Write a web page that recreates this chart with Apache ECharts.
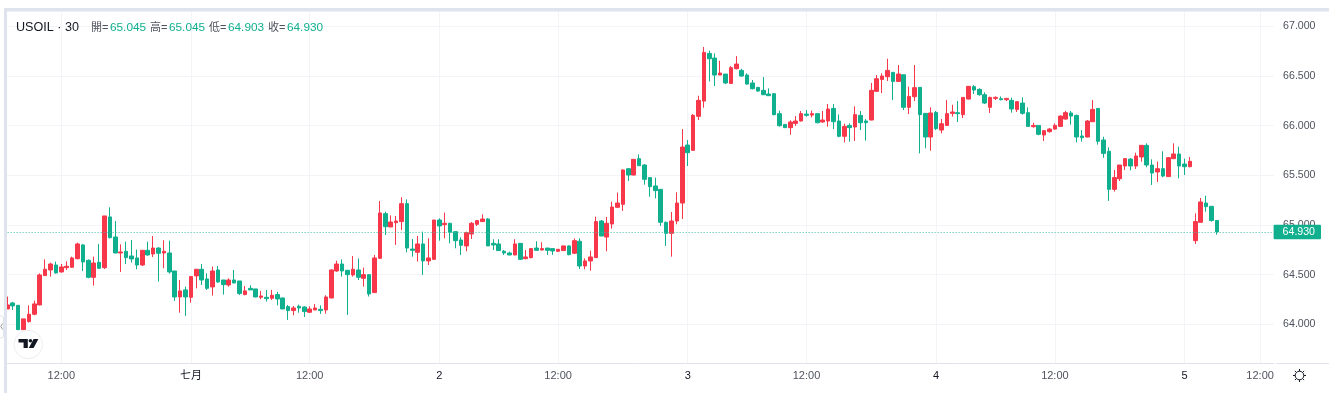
<!DOCTYPE html>
<html><head><meta charset="utf-8">
<style>html,body{margin:0;padding:0;background:#fff}#c{width:1329px;height:393px}</style>
<script src="https://cdn.jsdelivr.net/npm/echarts@6/dist/echarts.min.js"></script>
</head><body><div id="c"></div>
<script>
const symbolName = 'USOIL · 30';
const ohlcLabels = ['開','高','低','收'];
const ohlcValues = ['65.045','65.045','64.903','64.930'];
const lastPrice = 64.93;
const priceTicks = [64,64.5,65,65.5,66,66.5,67];
const timeTickIndex = [10,34,56,80,102,126,148,172,194,218,232];
const timeTickLabels = ['12:00','七月','12:00','2','12:00','3','12:00','4','12:00','5','12:00'];
const barSlots = 235;

const opens = [
64.154,64.215,64.191,63.946,64.027,64.101,64.195,64.490,64.547,64.597,
64.527,64.570,64.574,64.661,64.799,64.644,64.473,64.624,64.570,65.081,
64.879,64.718,64.735,64.688,64.668,64.597,64.745,64.708,64.768,64.718,
64.718,64.537,64.275,64.346,64.272,64.487,64.554,64.456,64.376,64.547,
64.446,64.396,64.446,64.436,64.299,64.362,64.356,64.272,64.272,64.262,
64.299,64.265,64.178,64.138,64.181,64.174,64.121,64.144,64.151,64.144,
64.265,64.537,64.607,64.544,64.497,64.547,64.463,64.500,64.319,64.664,
65.114,64.980,65.023,65.034,65.215,64.758,64.725,64.809,64.638,64.654,
65.050,65.003,65.017,64.933,64.849,64.789,64.909,65.007,65.034,65.060,
64.815,64.809,64.735,64.718,64.698,64.815,64.661,64.671,64.768,64.748,
64.768,64.762,64.735,64.742,64.789,64.715,64.836,64.587,64.638,64.671,
65.040,64.879,65.010,65.178,65.208,65.567,65.503,65.668,65.604,65.477,
65.393,65.359,65.027,64.916,65.040,65.221,65.805,65.752,66.094,66.248,
66.728,66.681,66.510,66.520,66.426,66.574,66.557,66.510,66.430,66.386,
66.356,66.319,66.322,66.121,66.013,65.980,66.023,66.047,66.117,66.107,
66.121,66.037,66.047,66.174,66.047,65.893,66.003,65.987,66.104,66.047,
66.057,66.346,66.466,66.493,66.537,66.446,66.513,66.185,66.292,66.386,
66.124,65.886,66.134,65.956,66.003,66.124,66.131,66.111,66.268,66.393,
66.366,66.312,66.185,66.275,66.272,66.262,66.255,66.164,66.228,66.131,
65.990,66.003,65.906,65.940,65.966,65.993,66.067,66.128,66.104,65.896,
65.886,66.040,66.174,65.856,65.742,65.359,65.466,65.594,65.664,65.594,
65.685,65.802,65.604,65.534,65.567,65.487,65.668,65.715,65.614,65.587,
64.842,65.027,65.221,65.188,65.045];
const closes = [
64.195,64.185,63.946,64.054,64.101,64.205,64.497,64.554,64.607,64.517,
64.577,64.584,64.668,64.809,64.628,64.473,64.617,64.564,65.091,64.872,
64.718,64.728,64.671,64.658,64.597,64.745,64.698,64.768,64.715,64.735,
64.527,64.275,64.336,64.275,64.480,64.554,64.446,64.362,64.537,64.426,
64.399,64.446,64.416,64.309,64.336,64.346,64.275,64.285,64.258,64.292,
64.255,64.154,64.138,64.164,64.164,64.128,64.154,64.164,64.138,64.275,
64.547,64.607,64.537,64.500,64.554,64.473,64.500,64.305,64.668,65.121,
64.983,65.030,65.040,65.215,64.768,64.745,64.809,64.638,64.668,65.050,
64.990,65.017,64.926,64.842,64.795,64.923,65.017,65.044,65.060,64.789,
64.799,64.742,64.718,64.698,64.809,64.654,64.678,64.762,64.745,64.762,
64.745,64.738,64.755,64.789,64.701,64.842,64.587,64.638,64.678,65.034,
64.889,65.017,65.181,65.221,65.554,65.503,65.661,65.597,65.460,65.386,
65.346,65.027,64.916,65.040,65.221,65.785,65.728,66.104,66.255,66.738,
66.674,66.510,66.530,66.430,66.584,66.621,66.500,66.419,66.372,66.349,
66.312,66.302,66.111,66.000,65.980,66.037,66.047,66.121,66.104,66.121,
66.030,66.057,66.168,66.040,65.893,65.993,65.980,66.111,66.030,66.030,
66.356,66.473,66.500,66.557,66.446,66.520,66.185,66.295,66.383,66.111,
65.886,66.128,65.970,66.020,66.121,66.138,66.121,66.285,66.396,66.359,
66.312,66.228,66.285,66.285,66.262,66.275,66.168,66.242,66.124,65.993,
66.003,65.913,65.950,65.966,66.003,66.097,66.131,66.097,65.886,65.879,
66.047,66.164,65.842,65.721,65.359,65.477,65.604,65.668,65.594,65.695,
65.802,65.604,65.523,65.567,65.493,65.678,65.715,65.594,65.587,65.641,
65.034,65.232,65.185,65.045,64.930];
const highs = [
64.279,64.225,64.191,64.054,64.191,64.238,64.513,64.654,64.621,64.631,
64.607,64.634,64.681,64.822,64.809,64.654,64.681,64.809,65.091,65.178,
65.040,64.805,64.832,64.849,64.752,64.748,64.832,64.889,64.775,64.846,
64.842,64.537,64.446,64.379,64.487,64.554,64.607,64.513,64.581,64.587,
64.446,64.463,64.547,64.436,64.386,64.393,64.356,64.336,64.346,64.346,
64.326,64.268,64.195,64.185,64.198,64.181,64.181,64.205,64.191,64.292,
64.554,64.641,64.654,64.547,64.688,64.664,64.570,64.500,64.698,65.242,
65.134,65.097,65.091,65.279,65.258,64.859,64.889,64.933,64.866,65.050,
65.067,65.124,65.023,64.933,64.876,64.933,65.030,65.050,65.107,65.070,
64.856,64.856,64.748,64.732,64.856,64.815,64.748,64.768,64.836,64.826,
64.768,64.762,64.755,64.789,64.795,64.866,64.866,64.664,64.742,65.084,
65.050,65.081,65.235,65.326,65.560,65.567,65.661,65.711,65.611,65.480,
65.477,65.359,65.034,65.131,65.329,65.966,65.856,66.117,66.302,66.792,
66.755,66.728,66.654,66.520,66.601,66.701,66.574,66.527,66.460,66.386,
66.490,66.376,66.329,66.151,66.017,66.054,66.097,66.148,66.158,66.151,
66.124,66.148,66.218,66.218,66.114,66.020,66.023,66.195,66.148,66.067,
66.430,66.510,66.527,66.674,66.537,66.611,66.513,66.393,66.611,66.386,
66.124,66.185,66.148,66.067,66.258,66.211,66.248,66.285,66.399,66.409,
66.376,66.336,66.292,66.295,66.295,66.279,66.282,66.242,66.285,66.185,
66.030,66.003,65.956,65.977,66.023,66.104,66.151,66.148,66.111,65.956,
66.057,66.258,66.174,65.889,65.782,65.554,65.604,65.674,65.674,65.728,
65.805,65.822,65.661,65.638,65.742,65.685,65.822,65.789,65.668,65.685,
65.117,65.272,65.295,65.188,65.045];
const lows = [
64.154,64.144,63.943,63.946,64.017,64.091,64.191,64.487,64.480,64.510,
64.520,64.547,64.570,64.654,64.537,64.463,64.389,64.557,64.557,64.866,
64.715,64.527,64.607,64.621,64.554,64.587,64.691,64.678,64.430,64.564,
64.510,64.235,64.117,64.084,64.218,64.362,64.396,64.346,64.289,64.419,
64.299,64.379,64.413,64.295,64.292,64.346,64.272,64.252,64.228,64.245,
64.191,64.154,64.044,64.091,64.117,64.074,64.114,64.144,64.104,64.107,
64.262,64.527,64.480,64.094,64.480,64.446,64.379,64.279,64.315,64.658,
64.899,64.980,64.799,64.950,64.725,64.681,64.631,64.497,64.597,64.648,
64.842,64.866,64.815,64.765,64.698,64.735,64.859,64.990,65.030,64.789,
64.748,64.738,64.698,64.695,64.695,64.648,64.654,64.664,64.742,64.745,
64.698,64.698,64.728,64.742,64.695,64.711,64.557,64.554,64.540,64.671,
64.889,64.735,64.963,65.174,65.141,65.443,65.500,65.594,65.406,65.285,
65.268,64.990,64.789,64.681,65.007,65.060,65.594,65.745,66.057,66.181,
66.446,66.399,66.510,66.419,66.423,66.567,66.493,66.413,66.366,66.342,
66.309,66.299,66.104,65.990,65.977,65.909,65.997,66.044,66.091,66.084,
66.023,66.030,65.990,65.966,65.883,65.832,65.839,65.846,65.956,65.849,
66.054,66.342,66.329,66.450,66.258,66.440,66.158,66.117,66.248,65.721,
65.772,65.748,65.956,65.923,66.000,66.091,66.037,66.077,66.265,66.319,
66.302,66.218,66.128,66.258,66.255,66.248,66.131,66.138,66.111,65.990,
65.980,65.903,65.846,65.930,65.960,65.990,66.060,66.010,65.832,65.839,
65.883,66.037,65.809,65.678,65.242,65.336,65.443,65.554,65.550,65.564,
65.638,65.581,65.403,65.433,65.480,65.483,65.664,65.470,65.503,65.581,
64.809,65.023,65.134,65.034,64.903];

const RED='#f7374a', GREEN='#10b08f', LINE='#e0e3eb', GRID='#f3f4f7', BAR='#dfe3ee', TEXT='#50535e', DARK='#131722';
const FONT='"Liberation Sans","Noto Sans CJK TC",sans-serif';

const categories = Array.from({length:barSlots},()=> '');
timeTickIndex.forEach((idx,k)=>{categories[idx]=timeTickLabels[k];});
const candleData = opens.map((o,i)=>[o,closes[i],lows[i],highs[i]]);
const isTick=(i)=>categories[i]!=='';

const graphics=[];
// chart frame
graphics.push({type:'rect',z:100,shape:{x:4,y:8,width:3,height:385},style:{fill:BAR}});
graphics.push({type:'rect',z:100,shape:{x:4,y:8,width:1325,height:3.4},style:{fill:BAR}});
graphics.push({type:'rect',z:100,shape:{x:1276,y:363,width:53,height:1},style:{fill:LINE}});
// collapse tab
graphics.push({type:'rect',z:100,shape:{x:-4,y:316,width:7.5,height:22,r:2},style:{fill:'#fff',stroke:LINE,lineWidth:1}});
graphics.push({type:'polyline',z:100,shape:{points:[[2.5,323.5],[0.8,326.5],[2.5,329.5]]},style:{fill:'none',stroke:'#9598a1',lineWidth:1}});
// logo
graphics.push({type:'circle',z:100,shape:{cx:28.3,cy:344.5,r:14.2},style:{fill:'#fff',stroke:'#eceef2',lineWidth:1}});
graphics.push({type:'polygon',z:101,shape:{points:[[18.5,339],[27.8,339],[27.8,348],[23.6,348],[23.6,342.4],[18.5,342.4]]},style:{fill:DARK}});
graphics.push({type:'circle',z:101,shape:{cx:30.4,cy:340.8,r:1.8},style:{fill:DARK}});
graphics.push({type:'polygon',z:101,shape:{points:[[33.6,339],[38.4,339],[33.6,348],[28.8,348]]},style:{fill:DARK}});
// settings icon
graphics.push({type:'circle',z:100,shape:{cx:1299.5,cy:375.5,r:4.3},style:{fill:'none',stroke:DARK,lineWidth:1}});
[[1299.5,369,1299.5,371.2],[1299.5,379.8,1299.5,382],[1293,375.5,1295.2,375.5],[1303.8,375.5,1306,375.5],
 [1294.9,370.9,1296.4,372.4],[1302.6,378.6,1304.1,380.1],[1294.9,380.1,1296.4,378.6],[1302.6,372.4,1304.1,370.9]]
 .forEach(p=>graphics.push({type:'line',z:100,shape:{x1:p[0],y1:p[1],x2:p[2],y2:p[3]},style:{stroke:DARK,lineWidth:1}}));
// legend header
const hdrY=27.5;
graphics.push({type:'text',z:100,style:{x:16,y:hdrY,text:symbolName,fill:DARK,font:'12.6px '+FONT,verticalAlign:'middle'}});
const hdrX=[91,150,209,268];
ohlcLabels.forEach((t,i)=>{
  graphics.push({type:'text',z:100,style:{x:hdrX[i],y:hdrY,text:t+'=',fill:TEXT,font:'11px '+FONT,verticalAlign:'middle'}});
  graphics.push({type:'text',z:100,style:{x:hdrX[i]+19,y:hdrY,text:ohlcValues[i],fill:GREEN,font:'11.8px '+FONT,verticalAlign:'middle'}});
});

const chart=echarts.init(document.getElementById('c'),null,{renderer:'canvas'});
chart.setOption({
  animation:false,
  backgroundColor:'#fff',
  grid:{left:4.6,top:11,width:1269,height:352,containLabel:false},
  graphic:graphics,
  xAxis:{type:'category',data:categories,boundaryGap:true,
    axisLine:{show:true,lineStyle:{color:LINE,width:1}},
    axisTick:{show:false},
    axisLabel:{interval:(i)=>isTick(i),margin:7,fontSize:11,fontFamily:FONT,hideOverlap:false,
      color:(v)=>/^\d$|月/.test(v)?DARK:TEXT},
    splitLine:{show:true,alignWithLabel:true,interval:(i)=>isTick(i),lineStyle:{color:GRID,width:1}}},
  yAxis:{type:'value',position:'right',min:63.61,max:67.155,scale:true,
    axisLine:{show:false},
    axisTick:{show:false,customValues:priceTicks},
    axisLabel:{customValues:priceTicks,inside:false,margin:9.5,fontSize:10.6,fontFamily:FONT,color:TEXT,
      padding:[5,0,0,0],formatter:(v)=>Number(v).toFixed(3)},
    splitLine:{show:true,lineStyle:{color:GRID,width:1}}},
  series:[{type:'candlestick',data:candleData,barWidth:4,
    itemStyle:{color:RED,color0:GREEN,borderColor:RED,borderColor0:GREEN,borderWidth:1},
    markLine:{silent:true,symbol:'none',animation:false,
      data:[{yAxis:lastPrice}],
      lineStyle:{color:'#3dbfa4',type:[1,2],width:1},
      label:{show:true,position:'end',distance:0,formatter:()=>lastPrice.toFixed(3),
        color:'#fff',fontSize:10.6,fontFamily:FONT,backgroundColor:GREEN,padding:[3,6,1,9],borderRadius:1}}}]
});
</script></body></html>
